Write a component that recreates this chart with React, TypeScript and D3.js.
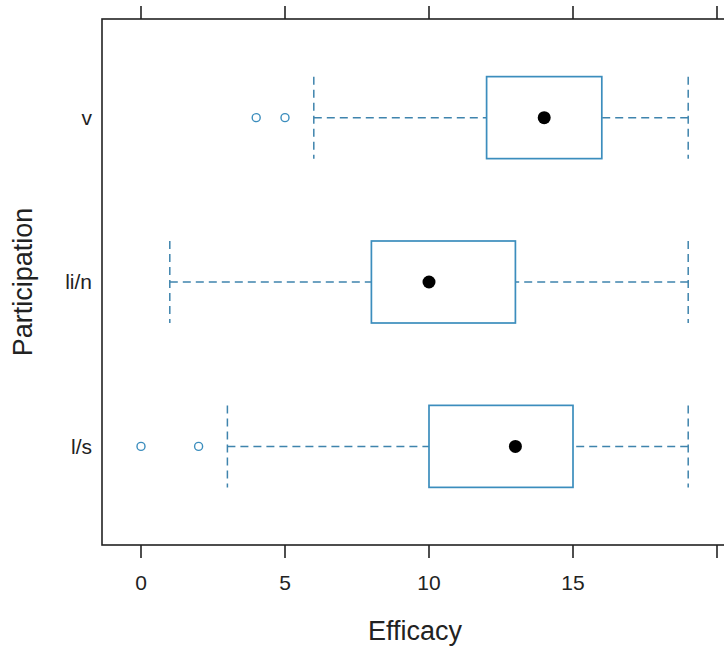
import React from "react";
import * as d3 from "d3";

// lattice bwplot: Efficacy by Participation
const categories = ["l/s", "li/n", "v"];
const lowerWhisker = [3, 1, 6];
const q1 = [10, 8, 12];
const medians = [13, 10, 14];
const q3 = [15, 13, 16];
const upperWhisker = [19, 19, 19];
const outliers = [[0, 2], [], [4, 5]];
const xTicks = [0, 5, 10, 15, 20];

const W = 724;
const H = 657;
const BLUE = "#3b8dbd";
const DASH = "#3f84ad";

const App = () => {
  const left = 102;
  const top = 19;
  const bottom = 545;

  const x = d3.scaleLinear().domain([0, 20]).range([141, 717]);
  const y = d3.scaleLinear().domain([0.4, categories.length + 0.6]).range([bottom, top]);
  const right = x(20.35);
  const half = 41;

  return (
    <div style={{ position: "absolute", left: 0, top: 0 }}>
      <svg width={W} height={H} style={{ display: "block", fontFamily: "Liberation Sans, Arial, sans-serif" }}>
        <rect x={0} y={0} width={W} height={H} fill="#fff" />

        {categories.map((c, i) => {
          const cy = y(i + 1);
          return (
            <g key={c}>
              {/* whiskers */}
              <line x1={x(lowerWhisker[i])} x2={x(q1[i])} y1={cy} y2={cy} stroke={DASH} strokeWidth={1.5} strokeDasharray="8,5" />
              <line x1={x(upperWhisker[i])} x2={x(q3[i])} y1={cy} y2={cy} stroke={DASH} strokeWidth={1.5} strokeDasharray="8,5" />
              <line x1={x(lowerWhisker[i])} x2={x(lowerWhisker[i])} y1={cy - half} y2={cy + half} stroke={DASH} strokeWidth={1.5} strokeDasharray="8,5" />
              <line x1={x(upperWhisker[i])} x2={x(upperWhisker[i])} y1={cy - half} y2={cy + half} stroke={DASH} strokeWidth={1.5} strokeDasharray="8,5" />
              {/* box */}
              <rect x={x(q1[i])} y={cy - half} width={x(q3[i]) - x(q1[i])} height={half * 2} fill="none" stroke={BLUE} strokeWidth={1.7} />
              {/* median dot */}
              <circle cx={x(medians[i])} cy={cy} r={6.5} fill="#000" />
              {outliers[i].map((o, j) => (
                <circle key={j} cx={x(o)} cy={cy} r={4} fill="none" stroke={BLUE} strokeWidth={1.4} />
              ))}
              <text x={92} y={cy} dy="0.35em" textAnchor="end" fontSize={21} fill="#222">{c}</text>
            </g>
          );
        })}

        {/* panel border */}
        <rect x={left} y={top} width={right - left} height={bottom - top} fill="none" stroke="#222" strokeWidth={1.6} />

        {xTicks.map((t) => (
          <g key={t}>
            <line x1={x(t)} x2={x(t)} y1={top} y2={top - 13} stroke="#222" strokeWidth={1.6} />
            <line x1={x(t)} x2={x(t)} y1={bottom} y2={bottom + 13} stroke="#222" strokeWidth={1.6} />
            {t < 20 && (
              <text x={x(t)} y={583} dy="0.35em" textAnchor="middle" fontSize={21} fill="#222">{t}</text>
            )}
          </g>
        ))}

        <text x={415} y={631} dy="0.35em" textAnchor="middle" fontSize={27} fill="#222">Efficacy</text>
        <text transform={`translate(23,282) rotate(-90)`} dy="0.35em" textAnchor="middle" fontSize={27} fill="#222">Participation</text>
      </svg>
    </div>
  );
};

export default App;
